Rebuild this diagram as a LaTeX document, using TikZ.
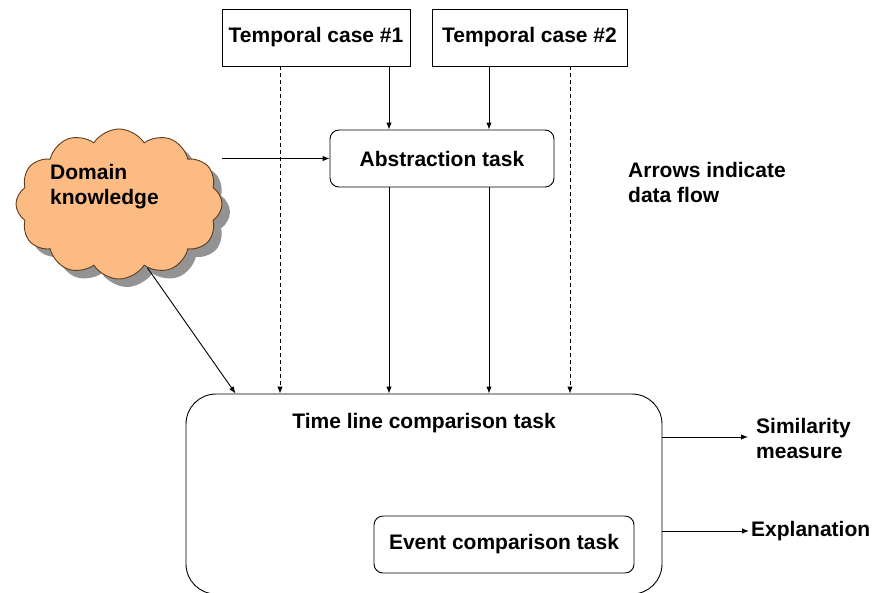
\documentclass[tikz,border=0pt]{standalone}
\usepackage{fontspec}
\setmainfont{Liberation Sans}
\usetikzlibrary{shapes.symbols,shadows,arrows.meta,calc}
\definecolor{cloudfill}{RGB}{252,187,130}
\definecolor{cloudline}{RGB}{90,60,30}
\begin{document}
\begin{tikzpicture}[x=1pt,y=-1pt,
  every node/.style={font=\bfseries\fontsize{21}{25.5}\selectfont, text=black},
  flow/.style={line width=0.9pt, -{Latex[length=7pt,width=5.5pt]}},
  dflow/.style={flow, dash pattern=on 4pt off 3pt},
  casebox/.style={draw, line width=0.9pt, minimum width=188pt, minimum height=57pt, inner sep=0pt},
  taskbox/.style={draw, line width=0.9pt, rounded corners=9pt, inner sep=0pt},
  plain/.style={inner sep=0pt, align=left}]
\clip (0,0) rectangle (872,592);

% knowledge source
\node[cloud, cloud puffs=12, cloud puff arc=115, aspect=1.35,
      minimum width=206pt, minimum height=150pt,
      fill=cloudfill, draw=cloudline, line width=0.9pt,
      drop shadow={shadow xshift=8pt, shadow yshift=-8pt, fill=gray!85, opacity=1}]
      (cloud) at (119,204) {};
\node[plain, anchor=north west] (dk) at (50,164) {Domain\\knowledge};

% inputs
\node[casebox] (tc1) at (316,37.5) {Temporal case \#1};
\node[casebox, minimum width=195pt] (tc2) at (529.5,37.5) {Temporal case \#2};

% tasks
\node[taskbox, minimum width=224pt, minimum height=57pt] (abs) at (442,158.5) {Abstraction task};
\node[draw, line width=0.9pt, rounded corners=30pt, minimum width=476pt, minimum height=200pt, inner sep=0pt]
      (tl) at (424,494) {};
\node[plain] (tlt) at (424,423) {Time line comparison task};
\node[taskbox, minimum width=260pt, minimum height=57pt] (ev) at (504,544.5) {Event comparison task};

% outputs and note
\node[plain, anchor=north west] (sim) at (756,418) {Similarity\\measure};
\coordinate (simtip) at (748,437);
\node[plain, anchor=west] (expl) at (751,531) {Explanation};
\node[plain, anchor=north west] (note) at (628,162) {Arrows indicate\\data flow};

% column positions of the vertical connectors
\coordinate (c1) at (280,0);
\coordinate (c2) at (389,0);
\coordinate (c3) at (489,0);
\coordinate (c4) at (570,0);

% data flow
\draw[flow] (tc1.south -| c2) -- (abs.north -| c2);
\draw[flow] (tc2.south -| c3) -- (abs.north -| c3);
\draw[flow] (abs.west -| cloud.east) -- (abs.west);
\draw[flow] (abs.south -| c2) -- (tl.north -| c2);
\draw[flow] (abs.south -| c3) -- (tl.north -| c3);
\draw[dflow] (tc1.south -| c1) -- (tl.north -| c1);
\draw[dflow] (tc2.south -| c4) -- (tl.north -| c4);
\draw[flow] (cloud.-66) -- ($(tl.north west)+(50,0)$);
\draw[flow] (tl.east |- simtip) -- (simtip);
\draw[flow] (tl.east |- expl.west) -- ([xshift=-2pt]expl.west);
\end{tikzpicture}
\end{document}
